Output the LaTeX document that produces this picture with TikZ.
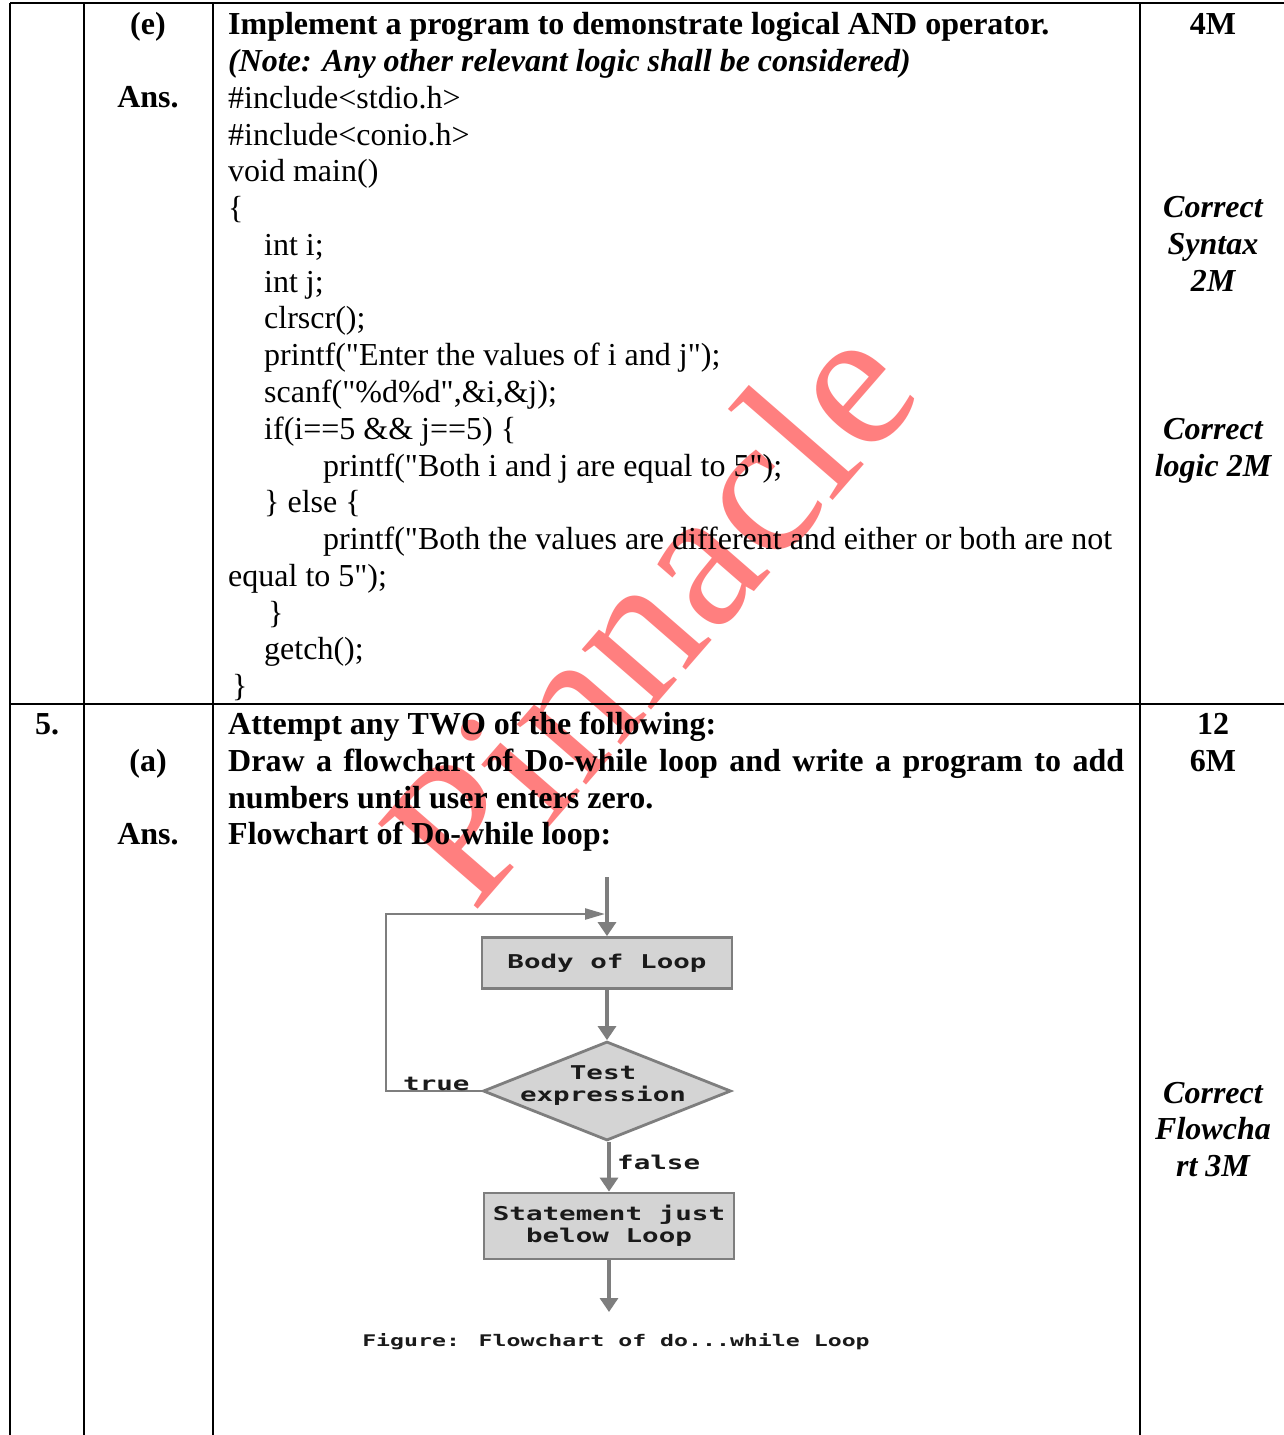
\documentclass[tikz,border=0pt]{standalone}
\usepackage{fontspec}
\setmainfont{Liberation Serif}[Ligatures=TeXOff]
\newfontfamily\fcfont{DejaVu Sans Mono}[FakeStretch=1.45]
\usetikzlibrary{arrows.meta,shapes.geometric}
\definecolor{fcline}{HTML}{7E7E7E}
\definecolor{fcfill}{HTML}{D4D4D4}
\definecolor{fctext}{HTML}{1A1A1A}
\definecolor{wmark}{HTML}{FF7F7F}
\begin{document}
\begin{tikzpicture}[x=1pt,y=-1pt,
  txt/.style={anchor=base west,inner sep=0pt,font=\fontsize{32}{36.72}\selectfont},
  ctr/.style={anchor=base,inner sep=0pt,font=\fontsize{32}{36.72}\selectfont},
  tbl/.style={line width=2.6pt,black},
  fbox/.style={draw=fcline,fill=fcfill,line width=2.8pt,inner sep=0pt,text=fctext,
    font=\fcfont\bfseries\fontsize{19}{22}\selectfont,align=center},
  flbl/.style={inner sep=0pt,text=fctext,font=\fcfont\bfseries\fontsize{19}{22}\selectfont,align=center},
  fcon/.style={draw=fcline,line width=3.2pt,-{Triangle[width=18pt,length=14pt]},color=fcline},
  fback/.style={draw=fcline,line width=2.4pt,-{Triangle[width=11pt,length=20pt]},color=fcline}
]
\useasboundingbox (0,0) rectangle (1283,1435);
\fill[white] (0,0) rectangle (1283,1435);

% watermark
\node[rotate=49,text=wmark,inner sep=0pt,font=\fontsize{200}{200}\selectfont] (wm) at (648,610) {Pinnacle};

% table rules
\draw[tbl] (10,3) -- (1295,3);
\draw[tbl] (10,704) -- (1295,704);
\draw[tbl] (10,3) -- (10,1440);
\draw[tbl] (84,3) -- (84,1440);
\draw[tbl] (213,3) -- (213,1440);
\draw[tbl] (1140,3) -- (1140,1440);

% left columns
\node[ctr,font=\bfseries\fontsize{32}{36.72}\selectfont] (e) at (148,34) {(e)};
\node[ctr,font=\bfseries\fontsize{32}{36.72}\selectfont] (ans1) at (148,107.4) {Ans.};
\node[ctr,font=\bfseries\fontsize{32}{36.72}\selectfont] (five) at (47,734.7) {5.};
\node[ctr,font=\bfseries\fontsize{32}{36.72}\selectfont] (a) at (148,771.4) {(a)};
\node[ctr,font=\bfseries\fontsize{32}{36.72}\selectfont] (ans2) at (148,844.8) {Ans.};

% right column
\node[ctr,font=\bfseries\fontsize{32}{36.72}\selectfont] (m4) at (1213,34) {4M};
\node[ctr,font=\bfseries\itshape\fontsize{32}{36.72}\selectfont] (cs1) at (1213,217.6) {Correct};
\node[ctr,font=\bfseries\itshape\fontsize{32}{36.72}\selectfont] (cs2) at (1213,254.3) {Syntax};
\node[ctr,font=\bfseries\itshape\fontsize{32}{36.72}\selectfont] (cs3) at (1213,291.0) {2M};
\node[ctr,font=\bfseries\itshape\fontsize{32}{36.72}\selectfont] (cl1) at (1213,439.9) {Correct};
\node[ctr,font=\bfseries\itshape\fontsize{32}{36.72}\selectfont] (cl2) at (1213,476.6) {logic 2M};
\node[ctr,font=\bfseries\fontsize{32}{36.72}\selectfont] (m12) at (1213,734.7) {12};
\node[ctr,font=\bfseries\fontsize{32}{36.72}\selectfont] (m6) at (1213,771.4) {6M};
\node[ctr,font=\bfseries\itshape\fontsize{32}{36.72}\selectfont] (cf1) at (1213,1103) {Correct};
\node[ctr,font=\bfseries\itshape\fontsize{32}{36.72}\selectfont] (cf2) at (1213,1139.7) {Flowcha};
\node[ctr,font=\bfseries\itshape\fontsize{32}{36.72}\selectfont] (cf3) at (1213,1176.4) {rt 3M};

% question e
\node[txt,font=\bfseries\fontsize{32}{36.72}\selectfont] (q1) at (228,34) {Implement a program to demonstrate logical AND operator.};
\node[txt,font=\bfseries\itshape\fontsize{32}{36.72}\selectfont] (q2) at (228,71.2) {(Note: Any other relevant logic shall be considered)};
\node[txt] (c1) at (228,108) {\#include<stdio.h>};
\node[txt] (c2) at (228,145) {\#include<conio.h>};
\node[txt] (c3) at (228,181.5) {void main()};
\node[txt] (c4) at (228,218.5) {\{};
\node[txt] (c5) at (264,255.3) {int i;};
\node[txt] (c6) at (264,292.0) {int j;};
\node[txt] (c7) at (264,328.8) {clrscr();};
\node[txt] (c8) at (264,365.5) {printf("Enter the values of i and j");};
\node[txt] (c9) at (264,402.2) {scanf("\%d\%d",\&i,\&j);};
\node[txt] (c10) at (264,439.4) {if(i==5 \&\& j==5) \{};
\node[txt] (c11) at (323,476.1) {printf("Both i and j are equal to 5");};
\node[txt] (c12) at (264,512.9) {\} else \{};
\node[txt] (c13) at (323,549.6) {printf("Both the values are different and either or both are not};
\node[txt] (c14) at (228,586.3) {equal to 5");};
\node[txt] (c15) at (268,623) {\}};
\node[txt] (c16) at (264,659.7) {getch();};
\node[txt] (c17) at (232,696.5) {\}};

% question 5
\node[txt,font=\bfseries\fontsize{32}{36.72}\selectfont] (p1) at (228,734.7) {Attempt any TWO of the following:};
\node[txt,font=\bfseries\fontsize{32}{36.72}\selectfont] (p2) at (228,771.4) {\makebox[896pt][s]{Draw a flowchart of Do-while loop and write a program to add}};
\node[txt,font=\bfseries\fontsize{32}{36.72}\selectfont] (p3) at (228,808.1) {numbers until user enters zero.};
\node[txt,font=\bfseries\fontsize{32}{36.72}\selectfont] (p4) at (228,844.8) {Flowchart of Do-while loop:};

% flowchart
\node[fbox,minimum width=250pt,minimum height=51pt] (body) at (607,963) {Body of Loop};
\node[draw=fcline,fill=fcfill,line width=2.8pt,diamond,inner sep=0pt,minimum width=248pt,minimum height=99pt] (test) at (607,1091) {};
\node[flbl] (testlbl) at (603,1086) {Test\\expression};
\node[fbox,minimum width=250pt,minimum height=66pt] (stmt) at (609,1226) {Statement just\\below Loop};
\coordinate (start) at (607,877);
\coordinate (corner) at (386,914);
\coordinate (join) at (605,914);
\coordinate (stop) at (609,1312);
\draw[fcon] (start) -- (body.north);
\draw[fcon] (body.south) -- (test.north);
\draw[fcon] (test.south -| stmt.north) -- (stmt.north);
\draw[fcon] (stmt.south) -- (stop);
\draw[fback] (test.west) -| (corner) -- (join);
\node[flbl,anchor=base west] (truelbl) at (403,1090) {true};
\node[flbl,anchor=base west] (falselbl) at (617,1169) {false};
\node[flbl,anchor=base,font=\fcfont\bfseries\fontsize{16}{18}\selectfont] (cap) at (616,1346) {Figure: Flowchart of do...while Loop};
\end{tikzpicture}
\end{document}
